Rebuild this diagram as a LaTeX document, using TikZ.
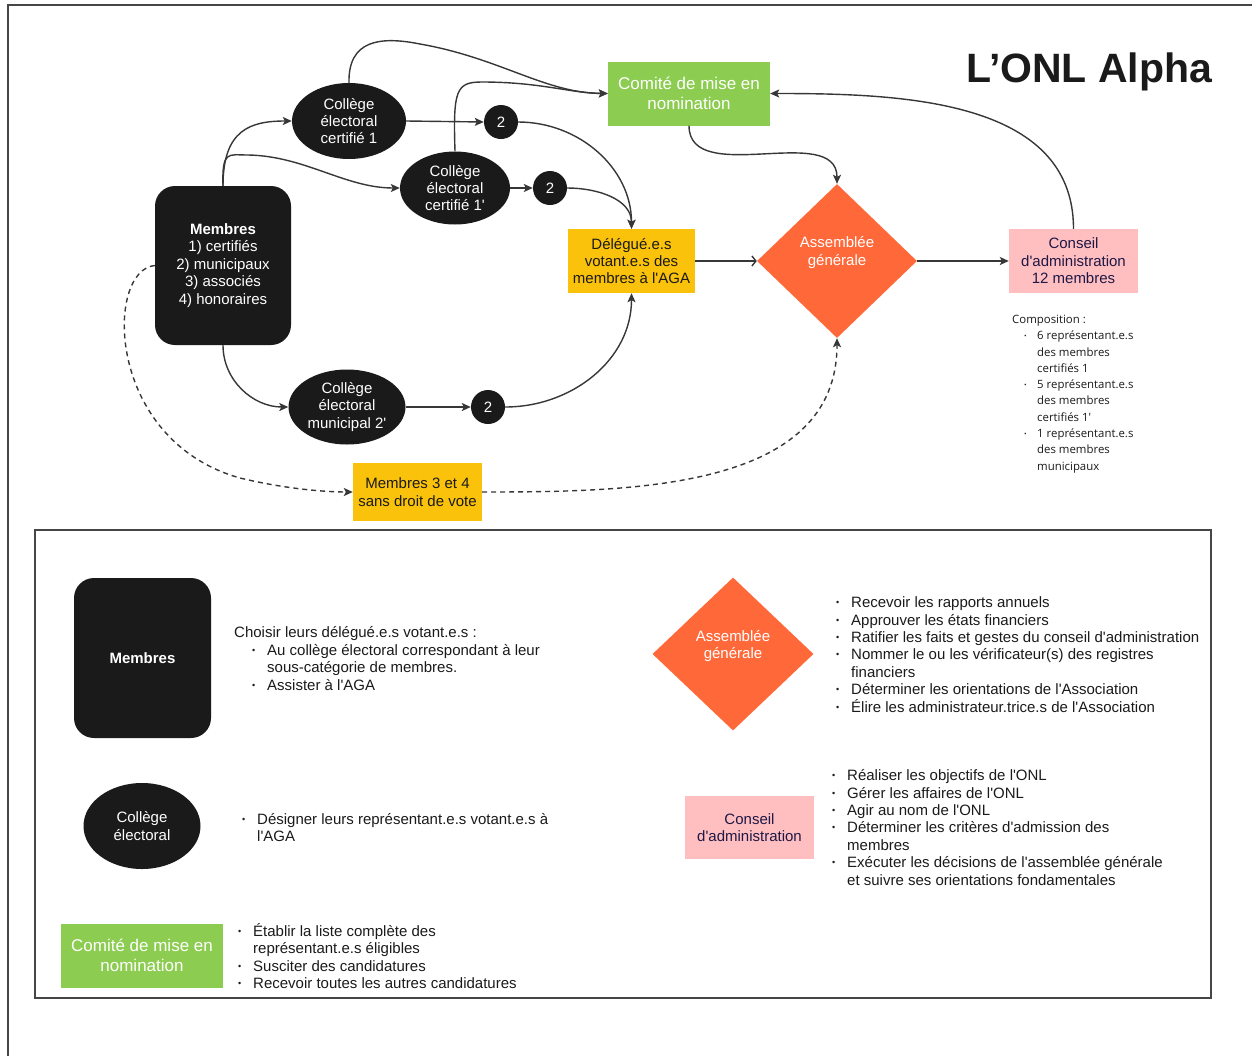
\documentclass[tikz,border=0pt]{standalone}
\usepackage{fontspec}
\setmainfont{Liberation Sans}[Ligatures=TeXOff]
\newfontfamily\compfont{Open Sans}[Ligatures=TeXOff]
\usetikzlibrary{arrows.meta,shapes.geometric}

\definecolor{ink}{RGB}{26,26,26}
\definecolor{wire}{RGB}{55,55,55}
\definecolor{leaf}{RGB}{140,204,80}
\definecolor{gold}{RGB}{251,194,12}
\definecolor{flame}{RGB}{255,105,58}
\definecolor{blush}{RGB}{255,191,192}
\definecolor{navy}{RGB}{30,24,70}
\definecolor{framegray}{RGB}{70,70,70}

% small bullet used in the lists
\newcommand\dotmark{\raisebox{0.25ex}{\scalebox{0.6}{•}}}
\newcommand\bl[1]{\makebox[15pt][l]{\dotmark}#1}
\newcommand\cb[1]{\makebox[13pt][l]{\dotmark}#1}

\begin{document}
\begin{tikzpicture}[x=1pt,y=-1pt,
  body/.style={font=\fontsize{15}{17.4}\selectfont},
  blackbox/.style={fill=ink, text=white, rounded corners=20pt, align=center,
    inner sep=0pt, body},
  college/.style={ellipse, fill=ink, text=white, align=center, inner sep=0pt, body},
  badge/.style={circle, fill=ink, text=white, minimum size=34pt, inner sep=0pt,
    font=\fontsize{15}{17}\selectfont},
  comite/.style={fill=leaf, text=white, align=center, inner sep=0pt,
    minimum width=162pt, minimum height=64pt, font=\fontsize{17}{19.5}\selectfont},
  goldbox/.style={fill=gold, text=ink, align=center, inner sep=0pt, body},
  conseil/.style={fill=blush, text=navy, align=center, inner sep=0pt,
    minimum width=129pt, body},
  diam/.style={diamond, fill=flame, inner sep=0pt, minimum width=160pt, minimum height=154pt},
  diamtext/.style={text=white, align=center, inner sep=0pt, body},
  listtext/.style={align=left, anchor=west, inner sep=0pt, text=ink, body},
  link/.style={draw=wire, line width=1.4pt, -{Stealth[length=9pt,width=8pt,inset=2pt]}},
  openlink/.style={draw=wire, line width=1.4pt, -{Straight Barb[length=4pt,width=10pt]}},
  dashlink/.style={link, dash pattern=on 5pt off 4pt}
]
\useasboundingbox (0,0) rectangle (1252,1055);

% outer frame (open to the right and bottom)
\draw[framegray, line width=2.5pt] (1260,5) -- (8,5) -- (8,1060);

% ---------- flow chart ----------
\node[blackbox, minimum width=136pt, minimum height=159pt] (mem) at (223,265.5)
  {\textbf{Membres}\\1) certifiés\\2) municipaux\\3) associés\\4) honoraires};

\node[college, minimum width=114pt, minimum height=76pt] (c1) at (349,121)
  {Collège\\électoral\\certifié 1};
\node[college, minimum width=110pt, minimum height=73pt] (c1p) at (455,188)
  {Collège\\électoral\\certifié 1'};
\node[college, minimum width=117pt, minimum height=75pt] (cm) at (347,407)
  {Collège\\électoral\\municipal 2'};

\node[badge] (n2a) at (501,122) {2};
\node[badge] (n2b) at (550,188) {2};
\node[badge] (n2c) at (488,407) {2};

\node[comite] (com) at (689,93.5) {Comité de mise en\\nomination};
\node[goldbox, minimum width=127pt, minimum height=64pt] (del) at (631.5,261)
  {Délégué.e.s\\votant.e.s des\\membres à l'AGA};
\node[diam] (ag) at (837,261) {};
\node[diamtext] (agt) at (837,252.5) {Assemblée\\générale};
\node[conseil, minimum height=64pt] (cons) at (1073.5,261)
  {Conseil\\d'administration\\12 membres};
\node[goldbox, minimum width=129pt, minimum height=58pt] (m34) at (417.5,492)
  {Membres 3 et 4\\sans droit de vote};

\node[font=\bfseries\fontsize{41}{41}\selectfont, anchor=base west, inner sep=0pt, text=ink]
  (title) at (966,82) {L’ONL Alpha};

\node[align=left, anchor=west, inner sep=0pt, text=ink,
  font=\compfont\fontsize{11.4}{16.3}\selectfont] (compo) at (1012,394)
  {Composition :\\
   \hspace*{12pt}\cb{6 représentant.e.s}\\
   \hspace*{25pt}des membres\\
   \hspace*{25pt}certifiés 1\\
   \hspace*{12pt}\cb{5 représentant.e.s}\\
   \hspace*{25pt}des membres\\
   \hspace*{25pt}certifiés 1'\\
   \hspace*{12pt}\cb{1 représentant.e.s}\\
   \hspace*{25pt}des membres\\
   \hspace*{25pt}municipaux};

% connectors
\draw[link] (mem.north) .. controls (223,130) and (250,121) .. (c1.west);
\draw[link] (mem.north) .. controls (222,150) and (228,155) .. (248,155)
  .. controls (305,156) and (345,188) .. (c1p.west);
\draw[link] (c1.north) .. controls (348,40) and (380,36) .. (420,44)
  .. controls (500,58) and (545,93) .. (com.west);
\draw[link] (c1p.north) .. controls (453,90) and (456,82) .. (482,82)
  .. controls (540,82) and (570,93) .. (com.west);
\draw[link] (c1.east) -- (n2a.west);
\draw[link] (c1p.east) -- (n2b.west);
\draw[link] (cm.east) -- (n2c.west);
\draw[link] (n2a.east) to[out=0,in=90] (del.north);
\draw[link] (n2b.east) to[out=0,in=90] (del.north);
\draw[link] (n2c.east) to[out=0,in=-90] (del.south);
\draw[link] (mem.south) to[out=-90,in=180] (cm.west);
\draw[openlink] (del.east) -- (ag.west);
\draw[link] (ag.east) -- (cons.west);
\draw[link] (com.south) to[out=-90,in=90] (ag.north);
\draw[link] (cons.north) to[out=90,in=0] (com.east);
\draw[dashlink] (mem.west) .. controls (105,270) and (105,440) .. (240,478)
  .. controls (290,490) and (330,492) .. (m34.west);
\draw[dashlink] (m34.east) to[out=0,in=-90] (ag.south);

% ---------- legend ----------
\draw[framegray, line width=2pt] (35,530) rectangle (1211,998);

\node[blackbox, minimum width=137pt, minimum height=160pt] (lmem) at (142.5,658)
  {\textbf{Membres}};
\node[listtext] (lmemtxt) at (234,658.5)
  {Choisir leurs délégué.e.s votant.e.s :\\
   \hspace*{18pt}\bl{Au collège électoral correspondant à leur}\\
   \hspace*{33pt}sous-catégorie de membres.\\
   \hspace*{18pt}\bl{Assister à l'AGA}};

\node[college, minimum width=117pt, minimum height=86pt] (lcol) at (142,826)
  {Collège\\électoral};
\node[listtext] (lcoltxt) at (242,827.5)
  {\bl{Désigner leurs représentant.e.s votant.e.s à}\\
   \hspace*{15pt}l'AGA};

\node[comite] (lcom) at (142,955.5) {Comité de mise en\\nomination};
\node[listtext] (lcomtxt) at (238,956)
  {\bl{Établir la liste complète des}\\
   \hspace*{15pt}représentant.e.s éligibles\\
   \bl{Susciter des candidatures}\\
   \bl{Recevoir toutes les autres candidatures}};

\node[diam, minimum width=161pt, minimum height=153pt] (lag) at (733,654) {};
\node[diamtext] (lagt) at (733,646) {Assemblée\\générale};
\node[listtext] (lagtxt) at (836,654.5)
  {\bl{Recevoir les rapports annuels}\\
   \bl{Approuver les états financiers}\\
   \bl{Ratifier les faits et gestes du conseil d'administration}\\
   \bl{Nommer le ou les vérificateur(s) des registres}\\
   \hspace*{15pt}financiers\\
   \bl{Déterminer les orientations de l'Association}\\
   \bl{Élire les administrateur.trice.s de l'Association}};

\node[conseil, minimum height=63pt] (lcons) at (749.5,827.5) {Conseil\\d'administration};
\node[listtext] (lconstxt) at (832,827.5)
  {\bl{Réaliser les objectifs de l'ONL}\\
   \bl{Gérer les affaires de l'ONL}\\
   \bl{Agir au nom de l'ONL}\\
   \bl{Déterminer les critères d'admission des}\\
   \hspace*{15pt}membres\\
   \bl{Exécuter les décisions de l'assemblée générale}\\
   \hspace*{15pt}et suivre ses orientations fondamentales};
\end{tikzpicture}
\end{document}
